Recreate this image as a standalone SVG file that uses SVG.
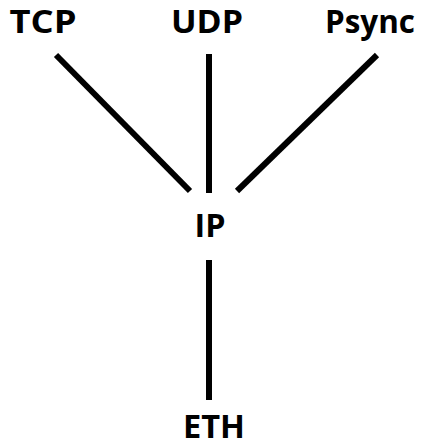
<svg xmlns="http://www.w3.org/2000/svg" width="421" height="447" viewBox="0 0 421 447">
<style>
.lbl{font-family:"Open Sans","Liberation Sans",sans-serif;font-weight:bold;font-size:32px;fill:#000;text-anchor:middle}
.edge{stroke:#000;stroke-width:6;fill:none}
</style>
<rect width="421" height="447" fill="#fff"/>
<g id="connectors">
<line class="edge" x1="56" y1="55" x2="190" y2="191"/>
<line class="edge" x1="209" y1="54" x2="209" y2="193"/>
<line class="edge" x1="377" y1="55" x2="237" y2="191"/>
<line class="edge" x1="209" y1="260" x2="209" y2="400"/>
</g>
<g id="tcp"><text class="lbl" x="43" y="33" textLength="67" lengthAdjust="spacingAndGlyphs">TCP</text></g>
<g id="udp"><text class="lbl" x="207" y="33" textLength="72" lengthAdjust="spacingAndGlyphs">UDP</text></g>
<g id="psync"><text class="lbl" x="370" y="33" textLength="90" lengthAdjust="spacingAndGlyphs">Psync</text></g>
<g id="ip"><text class="lbl" x="210" y="237" textLength="31" lengthAdjust="spacingAndGlyphs">IP</text></g>
<g id="eth"><text class="lbl" x="214" y="438" textLength="62" lengthAdjust="spacingAndGlyphs">ETH</text></g>
</svg>
